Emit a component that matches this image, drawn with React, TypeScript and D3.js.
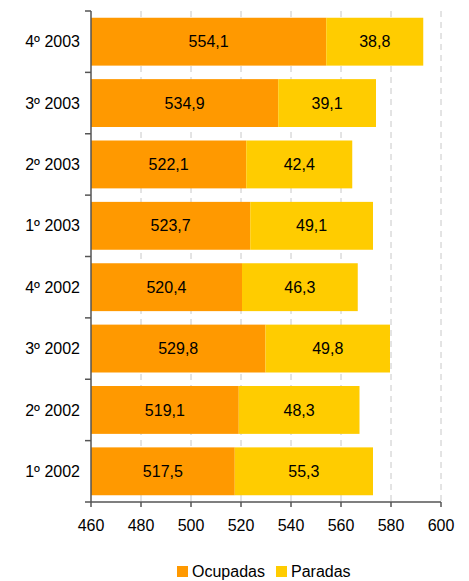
import React from "react";
import * as d3 from "d3";

const categories = ["1º 2002", "2º 2002", "3º 2002", "4º 2002", "1º 2003", "2º 2003", "3º 2003", "4º 2003"];
const ocupadas = [517.5, 519.1, 529.8, 520.4, 523.7, 522.1, 534.9, 554.1];
const paradas = [55.3, 48.3, 49.8, 46.3, 49.1, 42.4, 39.1, 38.8];
const xTicks = [460, 480, 500, 520, 540, 560, 580, 600];
const seriesNames = ["Ocupadas", "Paradas"];
const colors = ["#FF9900", "#FFCC00"];

const fmt = (v: number) => v.toFixed(1).replace(".", ",");

export default function App() {
  const W = 469, H = 581;
  const left = 91, right = 441, top = 11, bottom = 502;
  const x = d3.scaleLinear().domain([460, 600]).range([left, right]);
  const y = d3.scaleBand<string>().domain([...categories].reverse()).range([top, bottom]).paddingInner(0.22).paddingOuter(0.11);
  const band = d3.scaleBand<string>().domain(categories).range([top, bottom]);
  const font = "'Liberation Sans', Arial, sans-serif";
  return (
    <svg width={W} height={H} style={{ position: "absolute", left: 0, top: 0, background: "#fff" }} fontFamily={font}>
      {xTicks.slice(1).map((t) => (
        <line key={"g" + t} x1={x(t)} x2={x(t)} y1={top} y2={bottom} stroke="#c8c8c8" strokeWidth={1} strokeDasharray="6,5" />
      ))}
      {categories.map((c, i) => {
        const y0 = y(c)!;
        const h = y.bandwidth();
        const x0 = x(460), x1 = x(ocupadas[i]), x2 = x(ocupadas[i] + paradas[i]);
        return (
          <g key={c}>
            <rect x={x0} y={y0} width={x1 - x0} height={h} fill={colors[0]} />
            <rect x={x1} y={y0} width={x2 - x1} height={h} fill={colors[1]} />
            <text x={(x0 + x1) / 2} y={y0 + h / 2} dy="0.35em" textAnchor="middle" fontSize={16} fill="#000">{fmt(ocupadas[i])}</text>
            <text x={(x1 + x2) / 2} y={y0 + h / 2} dy="0.35em" textAnchor="middle" fontSize={16} fill="#000">{fmt(paradas[i])}</text>
            <text x={80} y={y0 + h / 2} dy="0.35em" textAnchor="end" fontSize={16} fill="#000">{c}</text>
          </g>
        );
      })}
      {/* y axis */}
      <line x1={left} x2={left} y1={top} y2={bottom} stroke="#555" strokeWidth={1.5} />
      {d3.range(categories.length + 1).map((k) => {
        const yy = top + k * band.step();
        return <line key={"yt" + k} x1={left - 6} x2={left} y1={yy} y2={yy} stroke="#555" strokeWidth={1.5} />;
      })}
      {/* x axis */}
      <line x1={left} x2={right} y1={bottom} y2={bottom} stroke="#555" strokeWidth={1.5} />
      {xTicks.map((t) => (
        <g key={"xt" + t}>
          <line x1={x(t)} x2={x(t)} y1={bottom} y2={bottom + 5} stroke="#555" strokeWidth={1.5} />
          <text x={x(t)} y={531} textAnchor="middle" fontSize={16} fill="#000">{t}</text>
        </g>
      ))}
      {/* legend */}
      {seriesNames.map((s, i) => {
        const lx = i === 0 ? 177 : 276;
        return (
          <g key={s}>
            <rect x={lx} y={566} width={11} height={11} fill={colors[i]} />
            <text x={lx + 15} y={577} fontSize={16} fill="#000">{s}</text>
          </g>
        );
      })}
    </svg>
  );
}
